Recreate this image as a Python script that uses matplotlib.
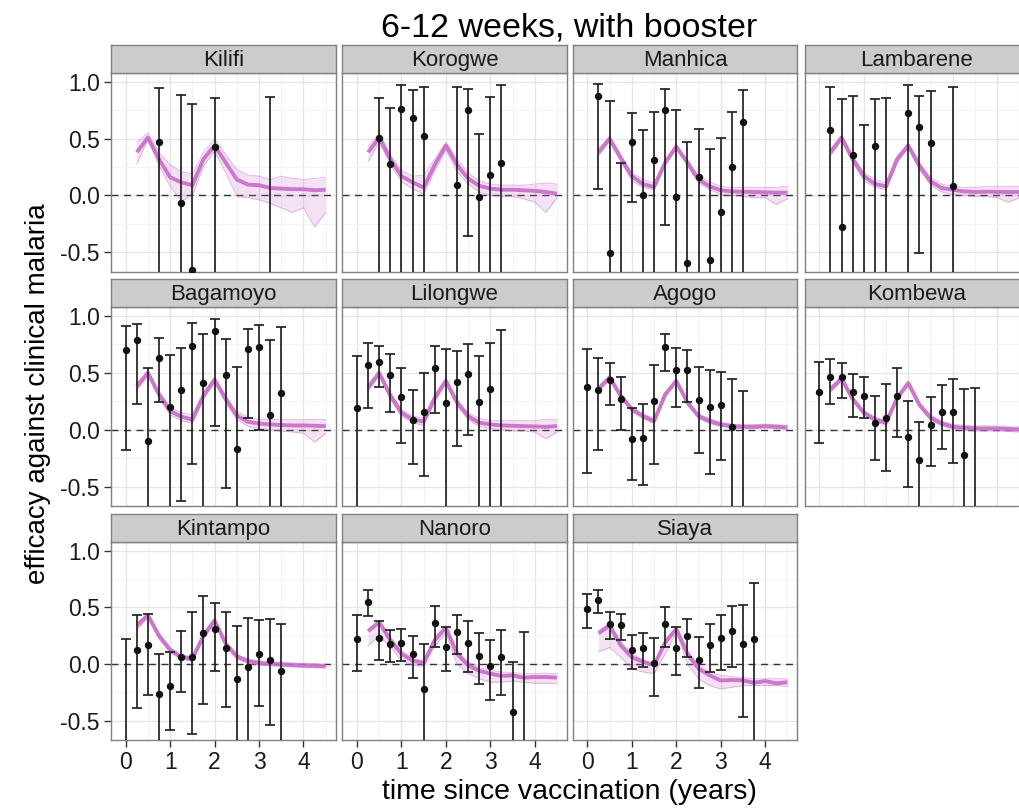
import matplotlib
matplotlib.use("Agg")
import matplotlib.pyplot as plt
from matplotlib.ticker import MultipleLocator

plt.rcParams["font.family"] = ["Liberation Sans", "DejaVu Sans"]

# model fit is evaluated quarterly from 3 months to 4.5 years
FIT_T = [0.25, 0.5, 0.75, 1.0, 1.25, 1.5, 1.75, 2.0, 2.25, 2.5, 2.75, 3.0,
         3.25, 3.5, 3.75, 4.0, 4.25, 4.5]

# ---- Kilifi ---------------------------------------------------------------
KILIFI_T = [0.75, 1.25, 1.5, 2.0, 3.25]
KILIFI_EST = [0.47, -0.07, -0.66, 0.43, -0.9]
KILIFI_LO = [-1.5, -1.5, -1.5, -1.5, -1.5]
KILIFI_HI = [0.95, 0.89, 0.81, 0.86, 0.87]
KILIFI_FIT = [0.38, 0.51, 0.32, 0.16, 0.115, 0.09, 0.32, 0.44, 0.29, 0.14, 0.095, 0.09,
              0.065, 0.06, 0.055, 0.055, 0.045, 0.05]
KILIFI_FIT_LO = [0.28, 0.49, 0.26, 0.08, -0.05, 0.0, 0.26, 0.39, 0.2, -0.01, -0.02, -0.04,
                 -0.07, -0.11, -0.15, -0.11, -0.28, -0.15]
KILIFI_FIT_HI = [0.47, 0.55, 0.38, 0.27, 0.21, 0.19, 0.38, 0.5, 0.36, 0.23, 0.18, 0.17,
                 0.14, 0.17, 0.15, 0.14, 0.15, 0.16]

# ---- Korogwe --------------------------------------------------------------
KOROGWE_T = [0.5, 0.75, 1.0, 1.25, 1.5, 2.25, 2.5, 2.75, 3.0, 3.25]
KOROGWE_EST = [0.51, 0.28, 0.76, 0.68, 0.52, 0.09, 0.75, -0.015, 0.18, 0.29]
KOROGWE_LO = [-1.5, -1.5, -1.5, -1.5, -1.5, -1.5, -0.36, -1.5, -1.5, -1.5]
KOROGWE_HI = [0.86, 0.77, 0.97, 0.93, 0.96, 0.96, 0.94, 0.54, 0.87, 0.97]
KOROGWE_FIT = [0.38, 0.51, 0.32, 0.17, 0.115, 0.07, 0.27, 0.44, 0.27, 0.15, 0.085, 0.06,
               0.05, 0.05, 0.045, 0.04, 0.03, 0.015]
KOROGWE_FIT_LO = [0.3, 0.47, 0.27, 0.12, 0.06, 0.01, 0.22, 0.4, 0.21, 0.1, 0.03, 0.0,
                  -0.01, -0.01, -0.03, -0.06, -0.15, -0.02]
KOROGWE_FIT_HI = [0.43, 0.55, 0.36, 0.22, 0.17, 0.18, 0.32, 0.47, 0.32, 0.2, 0.13, 0.1,
                  0.09, 0.09, 0.09, 0.1, 0.11, 0.1]

# ---- Manhica --------------------------------------------------------------
MANHICA_T = [0.25, 0.5, 0.75, 1.0, 1.25, 1.5, 1.75, 2.0, 2.25, 2.5, 2.75, 3.0, 3.25, 3.5]
MANHICA_EST = [0.88, -0.51, -0.9, 0.47, 0.0, 0.31, 0.75, -0.01, -0.6, 0.16, -0.57, -0.15,
               0.25, 0.65]
MANHICA_LO = [0.06, -1.5, -1.5, -0.06, -1.5, -1.5, -0.26, -1.5, -1.5, -1.5, -1.5, -1.5,
              -1.5, -1.5]
MANHICA_HI = [0.98, 0.83, 0.29, 0.73, 0.58, 0.74, 0.94, 0.75, 0.47, 0.59, 0.41, 0.51,
              0.74, 0.93]
MANHICA_FIT = [0.38, 0.5, 0.33, 0.17, 0.1, 0.075, 0.29, 0.43, 0.29, 0.14, 0.08, 0.045,
               0.035, 0.032, 0.03, 0.027, 0.024, 0.024]
MANHICA_FIT_LO = [0.35, 0.48, 0.3, 0.13, 0.07, 0.05, 0.27, 0.41, 0.26, 0.11, 0.05, 0.01,
                  0.0, -0.01, -0.02, -0.02, -0.08, -0.03]
MANHICA_FIT_HI = [0.41, 0.52, 0.36, 0.2, 0.14, 0.11, 0.31, 0.45, 0.31, 0.17, 0.12, 0.08,
                  0.07, 0.07, 0.07, 0.07, 0.07, 0.08]

# ---- Lambarene ------------------------------------------------------------
LAMBARENE_T = [0.25, 0.5, 0.75, 1.0, 1.25, 1.5, 2.0, 2.25, 2.5, 3.0]
LAMBARENE_EST = [0.58, -0.28, 0.36, -0.9, 0.44, -0.9, 0.73, 0.6, 0.46, 0.08]
LAMBARENE_LO = [-1.5, -1.5, -1.5, -1.5, -1.5, -1.5, -1.5, -0.51, -1.5, -1.5]
LAMBARENE_HI = [0.96, 0.85, 0.88, 0.62, 0.85, 0.86, 0.97, 0.88, 0.92, 0.96]
LAMBARENE_FIT = [0.38, 0.51, 0.32, 0.17, 0.1, 0.08, 0.32, 0.44, 0.26, 0.125, 0.065, 0.05,
                 0.035, 0.03, 0.033, 0.03, 0.03, 0.03]
LAMBARENE_FIT_LO = [0.35, 0.49, 0.29, 0.13, 0.07, 0.05, 0.29, 0.42, 0.23, 0.09, 0.03, 0.01,
                    0.0, -0.01, -0.01, -0.02, -0.06, -0.02]
LAMBARENE_FIT_HI = [0.41, 0.53, 0.35, 0.2, 0.14, 0.11, 0.35, 0.46, 0.29, 0.16, 0.1, 0.08,
                    0.07, 0.07, 0.08, 0.08, 0.08, 0.08]

# ---- Bagamoyo -------------------------------------------------------------
BAGAMOYO_T = [0.0, 0.25, 0.5, 0.75, 1.0, 1.25, 1.5, 1.75, 2.0, 2.25, 2.5, 2.75, 3.0,
              3.25, 3.5]
BAGAMOYO_EST = [0.7, 0.79, -0.1, 0.63, 0.2, 0.35, 0.74, 0.41, 0.87, 0.48, -0.17, 0.71,
                0.73, 0.13, 0.32]
BAGAMOYO_LO = [-0.18, 0.23, -1.5, 0.24, -1.5, -0.63, -0.3, -1.5, 0.03, -0.51, -1.5,
               0.1, 0.0, -1.5, -1.5]
BAGAMOYO_HI = [0.91, 0.93, 0.54, 0.81, 0.66, 0.72, 0.94, 0.84, 0.97, 0.8, 0.55, 0.89,
               0.92, 0.79, 0.9]
BAGAMOYO_FIT = [0.38, 0.5, 0.31, 0.165, 0.115, 0.09, 0.3, 0.44, 0.27, 0.125, 0.07, 0.055,
                0.047, 0.041, 0.038, 0.038, 0.035, 0.032]
BAGAMOYO_FIT_LO = [0.35, 0.48, 0.28, 0.13, 0.08, 0.06, 0.27, 0.42, 0.24, 0.09, 0.03,
                   0.01, 0.0, -0.01, -0.02, -0.03, -0.11, -0.03]
BAGAMOYO_FIT_HI = [0.41, 0.52, 0.34, 0.2, 0.15, 0.13, 0.33, 0.46, 0.3, 0.16, 0.11, 0.09,
                   0.09, 0.09, 0.09, 0.09, 0.09, 0.09]

# ---- Lilongwe -------------------------------------------------------------
LILONGWE_T = [0.0, 0.25, 0.5, 0.75, 1.0, 1.25, 1.5, 1.75, 2.0, 2.25, 2.5, 2.75, 3.0, 3.25]
LILONGWE_EST = [0.19, 0.57, 0.6, 0.48, 0.29, 0.09, 0.155, 0.54, 0.235, 0.42, 0.49, 0.24,
                0.36, -0.9]
LILONGWE_LO = [-1.5, 0.19, 0.38, 0.16, -0.12, -0.3, -0.41, 0.15, -1.5, -0.14, -0.05,
               -1.5, -1.5, -1.5]
LILONGWE_HI = [0.65, 0.76, 0.74, 0.67, 0.54, 0.35, 0.5, 0.74, 0.71, 0.69, 0.75, 0.65,
               0.76, 0.88]
LILONGWE_FIT = [0.37, 0.5, 0.3, 0.15, 0.09, 0.073, 0.28, 0.43, 0.24, 0.12, 0.062, 0.047,
                0.038, 0.035, 0.032, 0.029, 0.026, 0.032]
LILONGWE_FIT_LO = [0.34, 0.48, 0.27, 0.12, 0.06, 0.04, 0.25, 0.41, 0.21, 0.09, 0.03,
                   0.01, 0.0, -0.01, -0.01, -0.02, -0.08, -0.02]
LILONGWE_FIT_HI = [0.4, 0.52, 0.33, 0.18, 0.12, 0.1, 0.31, 0.45, 0.27, 0.15, 0.1, 0.08,
                   0.08, 0.08, 0.08, 0.08, 0.09, 0.09]

# ---- Agogo ----------------------------------------------------------------
AGOGO_T = [0.0, 0.25, 0.5, 0.75, 1.0, 1.25, 1.5, 1.75, 2.0, 2.25, 2.5, 2.75, 3.0,
           3.25, 3.5]
AGOGO_EST = [0.38, 0.35, 0.44, 0.27, -0.08, -0.07, 0.25, 0.73, 0.53, 0.53, 0.26, 0.2,
             0.22, 0.02, -0.9]
AGOGO_LO = [-0.38, -0.18, 0.22, 0.0, -0.44, -0.49, -0.3, 0.52, 0.2, 0.24, -0.2, -0.39,
            -0.27, -1.5, -1.5]
AGOGO_HI = [0.71, 0.63, 0.59, 0.46, 0.19, 0.23, 0.57, 0.84, 0.72, 0.7, 0.55, 0.53, 0.51,
            0.45, 0.34]
AGOGO_FIT = [0.36, 0.46, 0.3, 0.18, 0.12, 0.076, 0.31, 0.43, 0.24, 0.12, 0.076, 0.047,
             0.032, 0.026, 0.026, 0.032, 0.026, 0.02]
AGOGO_FIT_LO = [0.34, 0.44, 0.28, 0.16, 0.1, 0.055, 0.29, 0.41, 0.22, 0.1, 0.055, 0.03,
                0.015, 0.01, 0.01, 0.015, 0.01, 0.005]
AGOGO_FIT_HI = [0.38, 0.48, 0.32, 0.2, 0.14, 0.1, 0.33, 0.45, 0.26, 0.14, 0.1, 0.065,
                0.05, 0.045, 0.045, 0.05, 0.045, 0.04]

# ---- Kombewa --------------------------------------------------------------
KOMBEWA_T = [0.0, 0.25, 0.5, 0.75, 1.0, 1.25, 1.5, 1.75, 2.0, 2.25, 2.5, 2.75, 3.0,
             3.25, 3.5]
KOMBEWA_EST = [0.33, 0.46, 0.46, 0.33, 0.3, 0.056, 0.1, 0.3, -0.06, -0.27, 0.04, 0.16,
               0.16, -0.22, -0.9]
KOMBEWA_LO = [-0.12, 0.23, 0.28, 0.11, 0.1, -0.27, -0.36, -0.065, -0.5, -1.5, -0.32,
              -0.17, -0.29, -1.5, -1.5]
KOMBEWA_HI = [0.6, 0.62, 0.59, 0.49, 0.46, 0.3, 0.4, 0.54, 0.25, 0.07, 0.29, 0.39, 0.45,
              0.36, 0.37]
KOMBEWA_FIT = [0.355, 0.45, 0.27, 0.15, 0.09, 0.062, 0.28, 0.41, 0.22, 0.106, 0.056,
               0.026, 0.018, 0.012, 0.012, 0.012, 0.006, 0.003]
KOMBEWA_FIT_LO = [0.33, 0.43, 0.25, 0.13, 0.07, 0.04, 0.26, 0.39, 0.2, 0.085, 0.035,
                  0.005, -0.003, -0.01, -0.01, -0.01, -0.015, -0.02]
KOMBEWA_FIT_HI = [0.38, 0.47, 0.29, 0.17, 0.11, 0.085, 0.3, 0.43, 0.24, 0.13, 0.077,
                  0.047, 0.04, 0.034, 0.034, 0.034, 0.028, 0.025]

# ---- Kintampo -------------------------------------------------------------
KINTAMPO_T = [0.0, 0.25, 0.5, 0.75, 1.0, 1.25, 1.5, 1.75, 2.0, 2.25, 2.5, 2.75, 3.0,
              3.25, 3.5]
KINTAMPO_EST = [-0.9, 0.12, 0.17, -0.26, -0.19, 0.06, 0.065, 0.27, 0.31, 0.14, -0.13,
                -0.03, 0.085, 0.04, -0.065]
KINTAMPO_LO = [-1.5, -0.39, -0.27, -1.5, -0.585, -0.25, -0.615, -0.35, -0.06, -0.38,
               -1.5, -1.5, -0.37, -0.535, -1.5]
KINTAMPO_HI = [0.22, 0.43, 0.44, 0.09, 0.11, 0.29, 0.46, 0.6, 0.54, 0.46, 0.34, 0.41,
               0.39, 0.4, 0.35]
KINTAMPO_FIT = [0.34, 0.43, 0.25, 0.125, 0.062, 0.047, 0.25, 0.385, 0.18, 0.068, 0.026,
                0.009, 0.003, -0.003, -0.009, -0.012, -0.015, -0.02]
KINTAMPO_FIT_LO = [0.3, 0.41, 0.22, 0.1, 0.04, 0.025, 0.22, 0.36, 0.15, 0.045, 0.005,
                   -0.01, -0.015, -0.02, -0.025, -0.03, -0.032, -0.035]
KINTAMPO_FIT_HI = [0.36, 0.45, 0.27, 0.145, 0.08, 0.065, 0.27, 0.4, 0.2, 0.085, 0.045,
                   0.027, 0.02, 0.015, 0.01, 0.006, 0.003, 0.0]

# ---- Nanoro ---------------------------------------------------------------
NANORO_T = [0.0, 0.25, 0.5, 0.75, 1.0, 1.25, 1.5, 1.75, 2.0, 2.25, 2.5, 2.75, 3.0,
            3.25, 3.5, 3.75]
NANORO_EST = [0.22, 0.55, 0.23, 0.18, 0.19, 0.085, -0.22, 0.36, 0.15, 0.28, 0.19, 0.075,
              -0.02, 0.06, -0.42, -0.9]
NANORO_LO = [-0.065, 0.42, 0.04, 0.015, 0.03, -0.12, -1.5, 0.15, -0.065, 0.09, -0.07,
             -0.18, -0.32, -0.27, -1.5, -1.5]
NANORO_HI = [0.43, 0.65, 0.38, 0.3, 0.31, 0.25, 0.18, 0.51, 0.33, 0.43, 0.38, 0.27,
             0.21, 0.3, 0.02, 0.28]
NANORO_FIT = [0.29, 0.37, 0.21, 0.09, 0.03, 0.01, 0.21, 0.32, 0.09, -0.01, -0.06, -0.085,
              -0.105, -0.1, -0.12, -0.115, -0.115, -0.12]
NANORO_FIT_LO = [0.16, 0.25, 0.15, 0.03, -0.01, -0.02, 0.16, 0.27, 0.0, -0.085, -0.13,
                 -0.16, -0.16, -0.15, -0.16, -0.17, -0.17, -0.17]
NANORO_FIT_HI = [0.31, 0.38, 0.24, 0.12, 0.05, 0.03, 0.24, 0.34, 0.12, 0.02, -0.03,
                 -0.055, -0.07, -0.075, -0.085, -0.085, -0.08, -0.085]

# ---- Siaya ----------------------------------------------------------------
SIAYA_T = [0.0, 0.25, 0.5, 0.75, 1.0, 1.25, 1.5, 1.75, 2.0, 2.25, 2.5, 2.75, 3.0, 3.25,
           3.5, 3.75]
SIAYA_EST = [0.49, 0.565, 0.355, 0.345, 0.12, 0.145, 0.01, 0.35, 0.145, 0.25, 0.04,
             0.17, 0.23, 0.29, 0.175, 0.22]
SIAYA_LO = [0.32, 0.45, 0.22, 0.215, -0.04, -0.025, -0.285, 0.15, -0.095, 0.06, -0.215,
            -0.07, -0.055, -0.03, -0.47, -1.5]
SIAYA_HI = [0.615, 0.655, 0.455, 0.44, 0.255, 0.275, 0.23, 0.5, 0.325, 0.4, 0.24, 0.35,
            0.43, 0.51, 0.525, 0.715]
SIAYA_FIT = [0.27, 0.34, 0.165, 0.06, 0.02, -0.01, 0.19, 0.31, 0.09, -0.04, -0.1, -0.145,
             -0.14, -0.145, -0.165, -0.15, -0.17, -0.16]
SIAYA_FIT_LO = [0.11, 0.145, 0.06, -0.04, -0.07, -0.085, 0.09, 0.28, 0.0, -0.13, -0.19,
                -0.22, -0.205, -0.19, -0.19, -0.19, -0.19, -0.195]
SIAYA_FIT_HI = [0.3, 0.36, 0.2, 0.09, 0.04, 0.0, 0.21, 0.33, 0.12, -0.01, -0.07, -0.1,
                -0.11, -0.12, -0.13, -0.13, -0.13, -0.13]

SITES = [
    ("Kilifi", KILIFI_T, KILIFI_EST, KILIFI_LO, KILIFI_HI, KILIFI_FIT, KILIFI_FIT_LO, KILIFI_FIT_HI),
    ("Korogwe", KOROGWE_T, KOROGWE_EST, KOROGWE_LO, KOROGWE_HI, KOROGWE_FIT, KOROGWE_FIT_LO, KOROGWE_FIT_HI),
    ("Manhica", MANHICA_T, MANHICA_EST, MANHICA_LO, MANHICA_HI, MANHICA_FIT, MANHICA_FIT_LO, MANHICA_FIT_HI),
    ("Lambarene", LAMBARENE_T, LAMBARENE_EST, LAMBARENE_LO, LAMBARENE_HI, LAMBARENE_FIT, LAMBARENE_FIT_LO, LAMBARENE_FIT_HI),
    ("Bagamoyo", BAGAMOYO_T, BAGAMOYO_EST, BAGAMOYO_LO, BAGAMOYO_HI, BAGAMOYO_FIT, BAGAMOYO_FIT_LO, BAGAMOYO_FIT_HI),
    ("Lilongwe", LILONGWE_T, LILONGWE_EST, LILONGWE_LO, LILONGWE_HI, LILONGWE_FIT, LILONGWE_FIT_LO, LILONGWE_FIT_HI),
    ("Agogo", AGOGO_T, AGOGO_EST, AGOGO_LO, AGOGO_HI, AGOGO_FIT, AGOGO_FIT_LO, AGOGO_FIT_HI),
    ("Kombewa", KOMBEWA_T, KOMBEWA_EST, KOMBEWA_LO, KOMBEWA_HI, KOMBEWA_FIT, KOMBEWA_FIT_LO, KOMBEWA_FIT_HI),
    ("Kintampo", KINTAMPO_T, KINTAMPO_EST, KINTAMPO_LO, KINTAMPO_HI, KINTAMPO_FIT, KINTAMPO_FIT_LO, KINTAMPO_FIT_HI),
    ("Nanoro", NANORO_T, NANORO_EST, NANORO_LO, NANORO_HI, NANORO_FIT, NANORO_FIT_LO, NANORO_FIT_HI),
    ("Siaya", SIAYA_T, SIAYA_EST, SIAYA_LO, SIAYA_HI, SIAYA_FIT, SIAYA_FIT_LO, SIAYA_FIT_HI),
]

W, H = 1019, 808
COL_LEFT = [111, 342.3, 572.7, 804.7]   # panel left edges, px
PANEL_W = 224.5
STRIP_TOP = [44.7, 279.0, 513.7]
PANEL_TOP = [73.3, 307.3, 542.0]
PANEL_BOT = [271.7, 506.3, 740.3]

FIT_COL = "#C86CC8"


def fig_rect(x0, y0, x1, y1):
    """pixel box (top-left origin) -> figure fraction rect"""
    return [x0 / W, 1 - y1 / H, (x1 - x0) / W, (y1 - y0) / H]


fig = plt.figure(figsize=(W / 100, H / 100), dpi=100)

for i, (name, t, est, lo, hi, fit, fit_lo, fit_hi) in enumerate(SITES):
    r, c = divmod(i, 4)
    x0 = COL_LEFT[c]
    ax = fig.add_axes(fig_rect(x0, PANEL_TOP[r], x0 + PANEL_W, PANEL_BOT[r]))
    ax.set_xlim(-0.33, 4.72)
    ax.set_ylim(-0.673, 1.077)
    ax.xaxis.set_major_locator(MultipleLocator(1))
    ax.xaxis.set_minor_locator(MultipleLocator(0.5))
    ax.yaxis.set_major_locator(MultipleLocator(0.5))
    ax.yaxis.set_minor_locator(MultipleLocator(0.25))
    ax.grid(which="major", color="#E6E6E6", lw=1.0)
    ax.grid(which="minor", color="#F3F3F3", lw=0.8)
    ax.set_axisbelow(True)
    for sp in ax.spines.values():
        sp.set_color("#808080")
        sp.set_linewidth(1.0)

    ax.axhline(0, color="#333333", lw=1.0, ls=(0, (5, 4)), zorder=2)

    ax.fill_between(FIT_T, fit_lo, fit_hi, color=FIT_COL, alpha=0.2, lw=0, zorder=3)
    ax.plot(FIT_T, fit_lo, color=FIT_COL, lw=0.7, alpha=0.45, zorder=3)
    ax.plot(FIT_T, fit_hi, color=FIT_COL, lw=0.7, alpha=0.45, zorder=3)
    ax.plot(FIT_T, fit, color=FIT_COL, lw=2.8, alpha=0.9, zorder=4, solid_capstyle="butt")

    yerr = [[e - l for e, l in zip(est, lo)], [h - e for e, h in zip(est, hi)]]
    ax.errorbar(t, est, yerr=yerr, fmt="o", color="#111111", ms=4.3, elinewidth=1.25,
                capsize=3.6, capthick=1.25, ecolor="#222222", zorder=5)

    ax.tick_params(which="minor", length=0)
    ax.tick_params(which="major", color="#333333", width=1.0, length=5,
                   labelsize=16.5, labelcolor="#1A1A1A", pad=3)
    if c != 0:
        ax.tick_params(axis="y", length=0, labelleft=False)
    else:
        ax.set_yticks([-0.5, 0.0, 0.5, 1.0])
        ax.set_yticklabels(["-0.5", "0.0", "0.5", "1.0"])
    if r != 2:
        ax.tick_params(axis="x", length=0, labelbottom=False)

    # facet strip
    sax = fig.add_axes(fig_rect(x0, STRIP_TOP[r], x0 + PANEL_W, PANEL_TOP[r]))
    sax.set_facecolor("#CCCCCC")
    sax.set_xticks([]); sax.set_yticks([])
    for sp in sax.spines.values():
        sp.set_color("#808080")
        sp.set_linewidth(1.0)
    sax.text(0.5, 0.45, name, ha="center", va="center", fontsize=16, color="#1A1A1A",
             transform=sax.transAxes)

fig.text(569 / W, 1 - 28 / H, "6-12 weeks, with booster", ha="center", va="center",
         fontsize=24.5, color="#000000")
fig.text(569 / W, 1 - 792 / H, "time since vaccination (years)", ha="center",
         va="center", fontsize=20.5)
fig.text(38 / W, 1 - 394 / H, "efficacy against clinical malaria", ha="center",
         va="center", rotation=90, fontsize=20)

fig.savefig("out.png", dpi=100, facecolor="white")
